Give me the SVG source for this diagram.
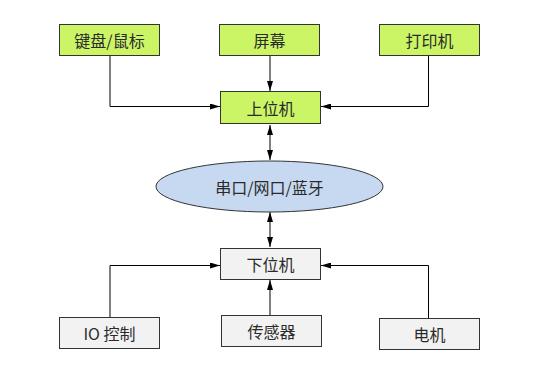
<svg xmlns="http://www.w3.org/2000/svg" width="550" height="374" viewBox="0 0 550 374">
<style>
.g{fill:#ccf566;stroke:#333;stroke-width:1}
.w{fill:#f2f2f2;stroke:#333;stroke-width:1}
.e{fill:#c6d9f1;stroke:#333;stroke-width:1}
.t{font-family:"Noto Sans CJK SC","Liberation Sans",sans-serif;font-size:16px;fill:#2a2a2a;text-anchor:middle;dominant-baseline:central}
.c{fill:none;stroke:#000;stroke-width:1}
</style>
<defs>
<marker id="a" viewBox="0 0 10 6" refX="10" refY="3" markerWidth="10" markerHeight="6" markerUnits="userSpaceOnUse" orient="auto-start-reverse">
<path d="M0,0 L10,3 L0,6 Z" fill="#000"/>
</marker>
</defs>
<rect width="550" height="374" fill="#fff"/>
<g id="connectors">
<path class="c" d="M110,55 V106.5 H220" marker-end="url(#a)"/>
<path class="c" d="M270,55 V91" marker-end="url(#a)"/>
<path class="c" d="M428.5,55 V106.5 H321" marker-end="url(#a)"/>
<path class="c" d="M270,125 V160" marker-start="url(#a)" marker-end="url(#a)"/>
<path class="c" d="M270,212 V247" marker-start="url(#a)" marker-end="url(#a)"/>
<path class="c" d="M110,317 V265.5 H220" marker-end="url(#a)"/>
<path class="c" d="M270,315 V280" marker-end="url(#a)"/>
<path class="c" d="M428.5,318 V265.5 H321" marker-end="url(#a)"/>
</g>
<g id="keyboard"><rect class="g" x="59.5" y="24.5" width="100" height="31"/><text class="t" x="109.5" y="40">键盘/鼠标</text></g>
<g id="screen"><rect class="g" x="219.5" y="24.5" width="100" height="31"/><text class="t" x="269.5" y="40">屏幕</text></g>
<g id="printer"><rect class="g" x="379.5" y="24.5" width="100" height="31"/><text class="t" x="429.5" y="40">打印机</text></g>
<g id="host"><rect class="g" x="220.5" y="91.5" width="100" height="32"/><text class="t" x="270.5" y="107.5">上位机</text></g>
<g id="link"><ellipse class="e" cx="269.5" cy="186.5" rx="113.5" ry="25.5"/><text class="t" x="269.5" y="186.5">串口/网口/蓝牙</text></g>
<g id="slave"><rect class="w" x="220.5" y="248.5" width="100" height="31"/><text class="t" x="270.5" y="264">下位机</text></g>
<g id="io"><rect class="w" x="59.5" y="317.5" width="100" height="31"/><text class="t" x="109.5" y="333">IO 控制</text></g>
<g id="sensor"><rect class="w" x="221.5" y="315.5" width="100" height="31"/><text class="t" x="271.5" y="331">传感器</text></g>
<g id="motor"><rect class="w" x="379.5" y="318.5" width="100" height="31"/><text class="t" x="429.5" y="334">电机</text></g>
</svg>
